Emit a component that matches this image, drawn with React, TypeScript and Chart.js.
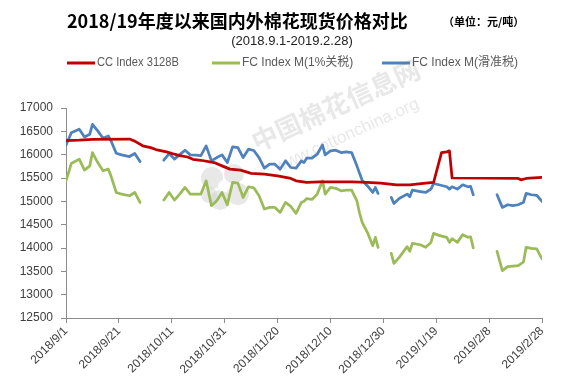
import React, { useEffect, useRef } from "react";
import { Chart, registerables } from "chart.js";

Chart.register(...registerables);

// ---------------- data ----------------
const tickLabels = [
  "2018/9/1", "2018/9/21", "2018/10/11", "2018/10/31", "2018/11/20",
  "2018/12/10", "2018/12/30", "2019/1/19", "2019/2/8", "2019/2/28",
];

// day offsets from 2018/9/1 for CC Index 3128B
const ccDays = [0, 5, 10, 24, 26, 29, 32, 34, 38, 41, 43, 46, 48, 51, 56, 59, 62, 66, 70, 75, 80, 85, 87, 91, 96, 101, 108, 114, 119, 125, 130, 136, 139, 142, 144, 145, 146, 171, 172, 174, 180];
const ccValues = [16300, 16310, 16330, 16335, 16290, 16190, 16150, 16110, 16060, 16010, 15980, 15950, 15900, 15880, 15831, 15760, 15690, 15669, 15600, 15583, 15547, 15490, 15440, 15404, 15419, 15419, 15419, 15404, 15390, 15355, 15355, 15390, 15404, 16045, 16060, 16081, 15500, 15490, 15461, 15490, 15515];

// day offsets from 2018/9/1 for FC Index M (null = holiday gap)
const fcDays = [
  0, 2, 5, 7, 9, 10, 12, 14, 16, 17, 19, 21, 24, 26, 28, 32,
  37, 39, 41, 43, 45, 47, 49, 51, 53, 55, 57, 59, 61, 63, 65, 67, 69, 71, 73, 75, 77, 79, 81, 83, 85, 87, 89, 90, 91, 93, 95, 97, 98, 100, 102, 104, 106, 108, 110, 111, 112, 114, 116, 117, 118, 120,
  123, 124, 126, 129, 130, 131, 134, 136, 138, 139, 141, 144, 145, 146, 148, 150, 152, 153, 154, 158,
  163, 165, 167, 169, 171, 173, 174, 176, 178, 180,
];
const fc1Values = [
  15440, 15810, 15904, 15669, 15760, 16045, 15831, 15654, 15690, 15547, 15190, 15155, 15120, 15190, 14976, null,
  15027, 15190, 15027, 15155, 15297, 15155, 15155, 15155, 15440, 14906, 15012, 15190, 14927, 15404, 15390, 15084, 15312, 15290, 15120, 14835, 14870, 14870, 14763, 14976, 14890, 14742, 14976, 15000, 15060, 15040, 15155, 15440, 15155, 15297, 15280, 15226, 15240, 15240, 15012, 14750, 14550, 14330, 14050, 14228, 14014, null,
  13886, 13672, 13800, 14029, 13930, 14100, 14070, 14014, 14120, 14314, 14270, 14228, 14121, 14200, 14121, 14286, 14230, 14240, 14002, null,
  13929, 13516, 13602, 13610, 13620, 13700, 14014, 13990, 13980, 13767,
];
const fcSlidingValues = [
  16200, 16470, 16545, 16380, 16438, 16650, 16509, 16352, 16402, 16300, 16030, 15996, 15960, 16024, 15852, null,
  15882, 16024, 15904, 16000, 16096, 15996, 15990, 15980, 16188, 15867, 15938, 15996, 15831, 16167, 16152, 15938, 16117, 16090, 15938, 15711, 15796, 15796, 15690, 15867, 15725, 15711, 15867, 15830, 15925, 15925, 16010, 16209, 15996, 16081, 16096, 16045, 16060, 16045, 15760, 15600, 15450, 15330, 15190, 15297, 15169, null,
  15084, 14955, 15060, 15155, 15100, 15241, 15210, 15190, 15262, 15383, 15355, 15312, 15262, 15312, 15262, 15355, 15312, 15320, 15141, null,
  15141, 14870, 14927, 14910, 14927, 14980, 15169, 15141, 15130, 14998,
];

const seriesNames = ["CC Index 3128B", "FC Index M(1%关税)", "FC Index M(滑准税)"];
const seriesColors = ["#C00000", "#9BBB59", "#4F81BD"];

const titleText = "2018/19年度以来国内外棉花现货价格对比";
const unitText = "（单位：元/吨）";
const subtitleText = "(2018.9.1-2019.2.28)";
const watermarkCn = "中国棉花信息网";
const watermarkEn = "www.cottonchina.org";

const CJK = '"Noto Sans CJK SC"';
const LATIN = '"Liberation Sans", "Noto Sans CJK SC"';

const headerPlugin = {
  id: "header",
  afterDraw(chart: any) {
    const ctx = chart.ctx;
    ctx.save();
    ctx.textBaseline = "middle";
    ctx.fillStyle = "#000";
    ctx.textAlign = "left";
    ctx.font = `bold 18px ${CJK}`;
    ctx.fillText(titleText, 67, 21);
    ctx.font = `bold 11px ${CJK}`;
    ctx.fillText(unitText, 443, 22);
    ctx.font = `13px "Liberation Sans"`;
    ctx.textAlign = "center";
    ctx.fillStyle = "#222";
    ctx.fillText(subtitleText, 292, 41);

    const items = [
      { x: 67, w: 82, color: seriesColors[0], text: seriesNames[0] },
      { x: 212, w: 116, color: seriesColors[1], text: seriesNames[1] },
      { x: 382, w: 113, color: seriesColors[2], text: seriesNames[2] },
    ];
    ctx.textAlign = "left";
    ctx.font = `12px ${LATIN}`;
    for (const it of items) {
      ctx.strokeStyle = it.color;
      ctx.lineWidth = 3;
      ctx.beginPath();
      ctx.moveTo(it.x, 63);
      ctx.lineTo(it.x + 28, 63);
      ctx.stroke();
      ctx.fillStyle = "#595959";
      ctx.fillText(it.text, it.x + 30, 63, it.w);
    }
    ctx.restore();
  },
};

const watermarkPlugin = {
  id: "watermark",
  beforeDatasetsDraw(chart: any) {
    const ctx = chart.ctx;
    ctx.save();
    const col = "rgba(210,210,210,0.5)";
    // logo
    ctx.fillStyle = col;
    const cx = 224, cy = 186;
    const lobes = [[-12, -8, 11], [10, -12, 10], [14, 8, 11], [-4, 14, 10], [-15, 9, 8]];
    for (const [dx, dy, r] of lobes) {
      ctx.beginPath();
      ctx.arc(cx + dx, cy + dy, r, 0, Math.PI * 2);
      ctx.fill();
    }
    ctx.fillStyle = "rgba(255,255,255,0.9)";
    ctx.beginPath();
    ctx.arc(cx, cy, 6, 0, Math.PI * 2);
    ctx.fill();

    ctx.fillStyle = col;
    ctx.translate(257, 152);
    ctx.rotate((-24.5 * Math.PI) / 180);
    ctx.textBaseline = "alphabetic";
    ctx.textAlign = "left";
    ctx.font = `bold 26px ${CJK}`;
    ctx.fillText(watermarkCn, 0, 0);
    ctx.font = `17px "Liberation Sans"`;
    ctx.fillText(watermarkEn, 10, 27);
    ctx.restore();
  },
};

export default function App() {
  const ref = useRef<HTMLCanvasElement | null>(null);

  useEffect(() => {
    if (!ref.current) return;
    const axisColor = "#8c8c8c";
    const tickFont = { family: '"Liberation Sans", Arial, sans-serif', size: 12 };
    const chart = new Chart(ref.current, {
      type: "line",
      data: {
        datasets: [
          {
            label: seriesNames[0],
            data: ccDays.map((d, i) => ({ x: d, y: ccValues[i] })),
            borderColor: seriesColors[0],
            backgroundColor: seriesColors[0],
          },
          {
            label: seriesNames[1],
            data: fcDays.map((d, i) => ({ x: d, y: fc1Values[i] })),
            borderColor: seriesColors[1],
            backgroundColor: seriesColors[1],
          },
          {
            label: seriesNames[2],
            data: fcDays.map((d, i) => ({ x: d, y: fcSlidingValues[i] })),
            borderColor: seriesColors[2],
            backgroundColor: seriesColors[2],
          },
        ],
      },
      options: {
        animation: false,
        responsive: false,
        devicePixelRatio: 1,
        spanGaps: false,
        layout: { padding: { top: 108, right: 23, bottom: 0, left: 0 } },
        elements: {
          point: { radius: 0, hoverRadius: 0 },
          line: { borderWidth: 2.75, tension: 0, borderJoinStyle: "round", borderCapStyle: "round" },
        },
        plugins: {
          legend: { display: false },
          title: { display: false },
          tooltip: { enabled: false },
        },
        scales: {
          x: {
            type: "linear",
            min: 0,
            max: 180,
            ticks: {
              stepSize: 20,
              autoSkip: false,
              maxRotation: 45,
              minRotation: 45,
              padding: 1,
              color: "#404040",
              font: tickFont,
              callback: (v: any) => tickLabels[Math.round(Number(v) / 20)] ?? "",
            },
            grid: { drawOnChartArea: false, drawTicks: true, tickLength: 5, color: axisColor },
            border: { color: axisColor, width: 1 },
            afterFit: (s: any) => {
              s.height = 70;
            },
          },
          y: {
            min: 12500,
            max: 17000,
            ticks: {
              stepSize: 500,
              padding: 8,
              color: "#404040",
              font: tickFont,
              callback: (v: any) => String(v),
            },
            grid: { drawOnChartArea: false, drawTicks: true, tickLength: 5, color: axisColor },
            border: { color: axisColor, width: 1 },
            afterFit: (s: any) => {
              s.width = 66;
            },
          },
        },
      },
      plugins: [watermarkPlugin, headerPlugin],
    } as any);
    return () => chart.destroy();
  }, []);

  return (
    <div style={{ position: "fixed", left: 0, top: 0, width: 565, height: 388, background: "#fff" }}>
      <canvas ref={ref} width={565} height={388} style={{ display: "block" }} />
    </div>
  );
}
